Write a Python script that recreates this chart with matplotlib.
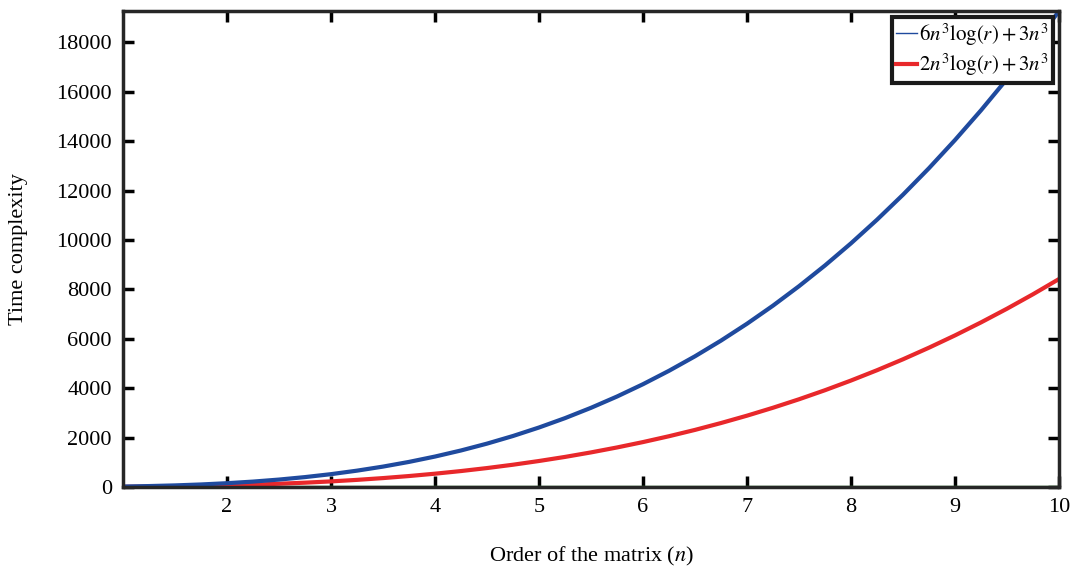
import matplotlib.pyplot as plt
from matplotlib.lines import Line2D

# order of the matrix
n = [1, 1.25, 1.5, 1.75, 2, 2.25, 2.5, 2.75, 3, 3.25, 3.5, 3.75, 4, 4.25,
     4.5, 4.75, 5, 5.25, 5.5, 5.75, 6, 6.25, 6.5, 6.75, 7, 7.25, 7.5, 7.75,
     8, 8.25, 8.5, 8.75, 9, 9.25, 9.5, 9.75, 10]
# 6n^3 log(r) + 3n^3
blue_vals = [19, 38, 65, 103, 154, 219, 301, 401, 520, 662, 826, 1016, 1233,
             1479, 1756, 2065, 2409, 2788, 3206, 3663, 4162, 4705, 5292, 5927,
             6610, 7343, 8130, 8970, 9866, 10821, 11834, 12909, 14048, 15251,
             16522, 17861, 19270]
# 2n^3 log(r) + 3n^3
red_vals = [8, 16, 28, 45, 67, 96, 132, 175, 227, 289, 361, 444, 539, 646,
            767, 902, 1053, 1218, 1401, 1601, 1819, 2056, 2312, 2590, 2888,
            3209, 3552, 3919, 4311, 4728, 5171, 5641, 6138, 6664, 7219, 7804,
            8420]
# flat line along the bottom
green_n = [1, 10]
green_vals = [0, 0]

xticks = [2, 3, 4, 5, 6, 7, 8, 9, 10]
yticks = [0, 2000, 4000, 6000, 8000, 10000, 12000, 14000, 16000, 18000]

plt.rcParams['font.family'] = ['Liberation Serif', 'DejaVu Serif']
plt.rcParams['mathtext.fontset'] = 'stix'

fig = plt.figure(figsize=(10.73, 5.69), dpi=100)
ax = fig.add_axes([0.1146, 0.1441, 0.8724, 0.8366])

c_blue = '#1f4a9e'
c_red = '#e8282b'
c_green = '#3a8a3a'

ax.plot(green_n, green_vals, color=c_green, lw=2.5)
ax.plot(n, red_vals, color=c_red, lw=3)
ax.plot(n, blue_vals, color=c_blue, lw=3)

ax.set_xlim(1, 10)
ax.set_ylim(0, 19270)
ax.set_xticks(xticks)
ax.set_yticks(yticks)
ax.tick_params(direction='in', length=8, width=2.5, labelsize=16, pad=8,
               top=True, right=True)
for s in ax.spines.values():
    s.set_linewidth(2.5)
    s.set_color('#262626')

ax.set_xlabel(r'Order of the matrix ($n$)', fontsize=16, labelpad=20)
ax.set_ylabel('Time complexity', fontsize=16, labelpad=20)

handles = [Line2D([], [], color=c_blue, lw=1),
           Line2D([], [], color=c_red, lw=3)]
labels = [r'$6n^3\log(r) + 3n^3$', r'$2n^3\log(r) + 3n^3$']
leg = ax.legend(handles, labels, loc='upper right', fontsize=15,
                handlelength=1.0, handletextpad=0.1, borderpad=0.2,
                labelspacing=0.2, borderaxespad=0.3, fancybox=False,
                framealpha=1)
leg.get_frame().set_edgecolor('#1a1a1a')
leg.get_frame().set_linewidth(3)

fig.savefig('out.png', dpi=100)
